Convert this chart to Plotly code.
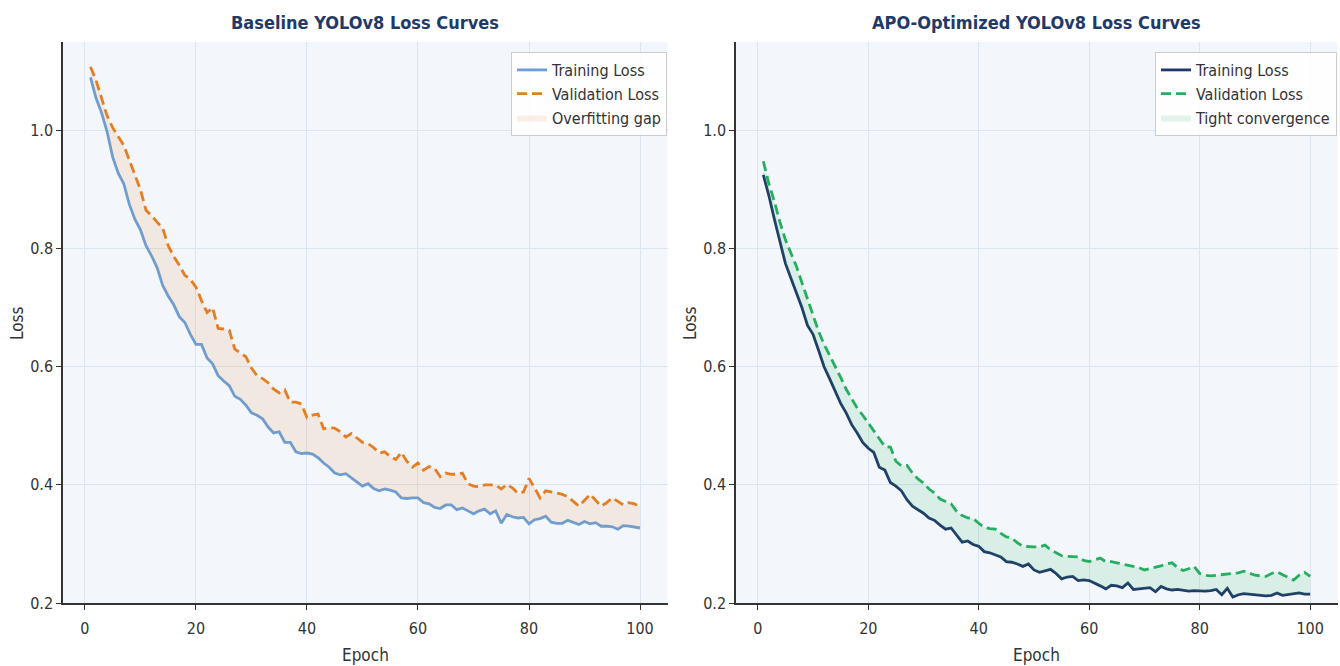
import plotly.graph_objects as go

epochs = list(range(1, 101))

base_train = [
    1.090, 1.055, 1.030, 0.998, 0.955, 0.928, 0.910, 0.875, 0.850, 0.832,
    0.805, 0.788, 0.768, 0.738, 0.720, 0.705, 0.685, 0.675, 0.655, 0.638,
    0.638, 0.615, 0.605, 0.585, 0.576, 0.568, 0.550, 0.545, 0.535, 0.522,
    0.518, 0.512, 0.498, 0.488, 0.490, 0.472, 0.472, 0.456, 0.453, 0.454,
    0.452, 0.446, 0.437, 0.430, 0.420, 0.417, 0.419, 0.412, 0.404, 0.398,
    0.402, 0.394, 0.390, 0.393, 0.391, 0.388, 0.378, 0.377, 0.378, 0.378,
    0.370, 0.368, 0.362, 0.360, 0.366, 0.366, 0.358, 0.361, 0.356, 0.351,
    0.356, 0.359, 0.351, 0.356, 0.335, 0.350, 0.346, 0.344, 0.345, 0.334,
    0.341, 0.343, 0.347, 0.337, 0.335, 0.335, 0.340, 0.337, 0.333, 0.338,
    0.334, 0.336, 0.330, 0.330, 0.329, 0.325, 0.331, 0.330, 0.329, 0.327,
]
base_val = [
    1.108, 1.085, 1.055, 1.025, 1.005, 0.990, 0.975, 0.950, 0.925, 0.900,
    0.865, 0.856, 0.845, 0.835, 0.805, 0.787, 0.772, 0.755, 0.748, 0.735,
    0.712, 0.692, 0.700, 0.665, 0.664, 0.662, 0.630, 0.624, 0.617, 0.598,
    0.585, 0.580, 0.573, 0.562, 0.556, 0.561, 0.540, 0.540, 0.537, 0.514,
    0.518, 0.520, 0.495, 0.497, 0.496, 0.490, 0.481, 0.487, 0.480, 0.472,
    0.470, 0.463, 0.454, 0.456, 0.448, 0.443, 0.455, 0.440, 0.430, 0.437,
    0.425, 0.431, 0.428, 0.414, 0.420, 0.418, 0.418, 0.420, 0.402, 0.398,
    0.397, 0.400, 0.400, 0.400, 0.393, 0.401, 0.395, 0.386, 0.388, 0.411,
    0.395, 0.378, 0.390, 0.388, 0.386, 0.384, 0.380, 0.372, 0.364, 0.374,
    0.384, 0.374, 0.364, 0.370, 0.378, 0.372, 0.366, 0.370, 0.368, 0.363,
]
apo_train = [
    0.925, 0.890, 0.850, 0.810, 0.775, 0.750, 0.725, 0.700, 0.670, 0.655,
    0.628, 0.600, 0.580, 0.560, 0.538, 0.522, 0.502, 0.488, 0.472, 0.462,
    0.455, 0.430, 0.425, 0.404, 0.398, 0.390, 0.375, 0.364, 0.358, 0.352,
    0.344, 0.340, 0.332, 0.325, 0.327, 0.314, 0.303, 0.305, 0.299, 0.296,
    0.287, 0.285, 0.281, 0.278, 0.270, 0.269, 0.266, 0.262, 0.266, 0.256,
    0.252, 0.255, 0.257, 0.250, 0.241, 0.244, 0.245, 0.238, 0.239, 0.238,
    0.234, 0.229, 0.224, 0.230, 0.229, 0.226, 0.234, 0.223, 0.224, 0.225,
    0.226, 0.219, 0.228, 0.224, 0.222, 0.223, 0.221, 0.220, 0.221, 0.220,
    0.220, 0.221, 0.223, 0.214, 0.225, 0.210, 0.214, 0.216, 0.215, 0.214,
    0.213, 0.212, 0.213, 0.217, 0.213, 0.214, 0.216, 0.217, 0.215, 0.215,
]
apo_val = [
    0.948, 0.910, 0.880, 0.845, 0.815, 0.792, 0.770, 0.742, 0.715, 0.685,
    0.660, 0.638, 0.620, 0.602, 0.582, 0.562, 0.545, 0.530, 0.518, 0.505,
    0.493, 0.480, 0.465, 0.464, 0.440, 0.432, 0.433, 0.420, 0.410, 0.403,
    0.393, 0.386, 0.376, 0.372, 0.368, 0.355, 0.348, 0.344, 0.343, 0.335,
    0.328, 0.326, 0.325, 0.318, 0.312, 0.310, 0.302, 0.296, 0.295, 0.295,
    0.295, 0.298, 0.290, 0.285, 0.280, 0.279, 0.279, 0.278, 0.272, 0.270,
    0.273, 0.276, 0.270, 0.270, 0.268, 0.266, 0.264, 0.263, 0.260, 0.256,
    0.258, 0.260, 0.263, 0.266, 0.268, 0.260, 0.255, 0.258, 0.262, 0.250,
    0.247, 0.246, 0.247, 0.247, 0.248, 0.250, 0.251, 0.254, 0.250, 0.247,
    0.246, 0.245, 0.250, 0.253, 0.248, 0.244, 0.239, 0.247, 0.252, 0.245,
]

titles = ["Baseline YOLOv8 Loss Curves", "APO-Optimized YOLOv8 Loss Curves"]
x_ticks = [0, 20, 40, 60, 80, 100]
y_ticks = [0.2, 0.4, 0.6, 0.8, 1.0]

FONT = "DejaVu Sans Condensed, Liberation Sans Narrow, DejaVu Sans, sans-serif"
NAVY = "#1f3a68"
W, H = 1340, 666

fig = go.Figure()

panels = [
    dict(train=base_train, val=base_val, tcol="#6a9fd8", vcol="#e67e22",
         fill="rgba(230,126,34,0.12)", fname="Overfitting gap",
         xa="x", ya="y", leg="legend"),
    dict(train=apo_train, val=apo_val, tcol=NAVY, vcol="#27ae60",
         fill="rgba(39,174,96,0.13)", fname="Tight convergence",
         xa="x2", ya="y2", leg="legend2"),
]

for p in panels:
    fig.add_trace(go.Scatter(
        x=epochs, y=p["train"], mode="lines", name="Training Loss",
        line=dict(color=p["tcol"], width=2.8),
        xaxis=p["xa"], yaxis=p["ya"], legend=p["leg"], legendrank=1))
    fig.add_trace(go.Scatter(
        x=epochs, y=p["val"], mode="lines", name="Validation Loss",
        line=dict(color=p["vcol"], width=2.8, dash="10px,5px"),
        xaxis=p["xa"], yaxis=p["ya"], legend=p["leg"], legendrank=2))
    fig.add_trace(go.Scatter(
        x=epochs + epochs[::-1], y=p["val"] + p["train"][::-1],
        mode="lines", fill="toself", fillcolor=p["fill"],
        line=dict(width=0, color=p["fill"]), name=p["fname"],
        xaxis=p["xa"], yaxis=p["ya"], legend=p["leg"], legendrank=3,
        hoverinfo="skip"))

axis_common = dict(
    showgrid=True, gridcolor="#dbe5f0", gridwidth=1,
    showline=True, linecolor="#333333", linewidth=1.5, mirror=False,
    ticks="outside", ticklen=5, tickcolor="#333333", tickwidth=1.2,
    tickfont=dict(family=FONT, size=16, color="#333333"), zeroline=False,
    automargin=False,
)

legend_common = dict(
    y=1 - 52 / H, xanchor="right", yanchor="top",
    bgcolor="rgba(255,255,255,0.85)", bordercolor="#cccccc", borderwidth=1,
    font=dict(family=FONT, size=16, color="#333333"),
    tracegroupgap=4, itemwidth=30,
)

fig.update_layout(
    width=W, height=H, autosize=False,
    margin=dict(l=0, r=0, t=0, b=0, pad=0, autoexpand=False),
    paper_bgcolor="white",
    plot_bgcolor="#f3f7fc",
    font=dict(family=FONT, color="#333333"),
    xaxis=dict(domain=[63 / W, 667.5 / W], range=[-3.95, 104.95],
               tickvals=x_ticks, anchor="y", ticklabelstandoff=5,
               **axis_common),
    yaxis=dict(domain=[1 - 603 / H, 1 - 42 / H], range=[0.2, 1.15],
               tickvals=y_ticks, ticktext=[f"{v:.1f}" for v in y_ticks],
               anchor="x", **axis_common),
    xaxis2=dict(domain=[736 / W, 1337.5 / W], range=[-3.95, 104.95],
                tickvals=x_ticks, anchor="y2", ticklabelstandoff=5,
                **axis_common),
    yaxis2=dict(domain=[1 - 603 / H, 1 - 42 / H], range=[0.2, 1.15],
                tickvals=y_ticks, ticktext=[f"{v:.1f}" for v in y_ticks],
                anchor="x2", **axis_common),
    legend=dict(x=667 / W, **legend_common),
    legend2=dict(x=1337 / W, **legend_common),
    showlegend=True,
)

ann = []
centers = [(63 + 667.5) / 2 / W, (736 + 1337.5) / 2 / W]
ylab_x = [17 / W, 690 / W]
for i in range(2):
    ann.append(dict(text=f"<b>{titles[i]}</b>", x=centers[i], y=1 - 22 / H,
                    xref="paper", yref="paper", showarrow=False,
                    xanchor="center", yanchor="middle",
                    font=dict(family=FONT, size=18, color=NAVY)))
    ann.append(dict(text="Epoch", x=centers[i], y=1 - 655 / H,
                    xref="paper", yref="paper", showarrow=False,
                    xanchor="center", yanchor="middle",
                    font=dict(family=FONT, size=17, color="#333333")))
    ann.append(dict(text="Loss", x=ylab_x[i], y=1 - 323 / H, textangle=-90,
                    xref="paper", yref="paper", showarrow=False,
                    xanchor="center", yanchor="middle",
                    font=dict(family=FONT, size=17, color="#333333")))
fig.update_layout(annotations=ann)

fig.write_html(
    "out.html",
    config={"displayModeBar": False, "responsive": False},
    post_script="document.body.style.margin='0';document.body.style.overflow='hidden';",
)
